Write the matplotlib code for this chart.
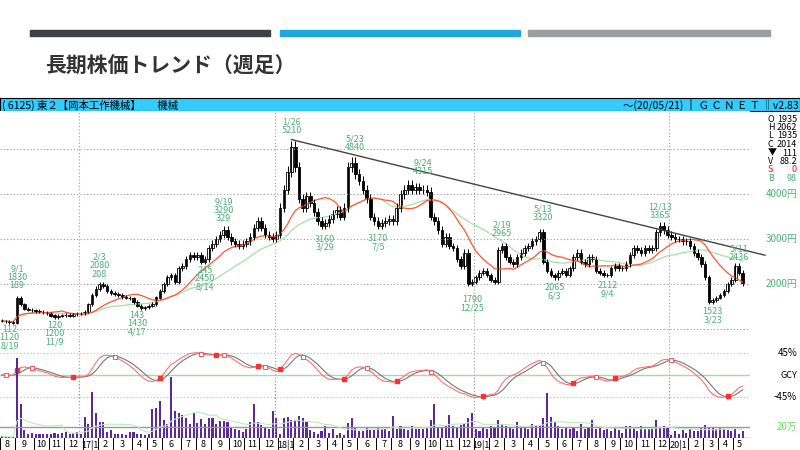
import numpy as np
import pandas as pd
import matplotlib
matplotlib.use("Agg")
import matplotlib.pyplot as plt

plt.rcParams['font.family'] = ['Noto Sans CJK JP', 'DejaVu Sans']

# ---------------- data ----------------
start_date = "2016-08-05"
closes = [
    1180,1170,1150,1140, 1700,1550,1450,1430,1420, 1400,1380,1370,1350, 1300,1260,1290,1310, 1320,1300,1330,1340,1350,
    1380,1550,1750,1900, 2000,1950,1850,1800, 1780,1750,1720,1700,1680, 1600,1520,1470,1480, 1520,1560,1700,1850,
    2000,2150,2200,2050,2350, 2400,2550,2650,2600, 2650,2500,2550,2800, 2900,3000,3100,3200,3050, 2950,2900,2850,2900,
    2950,3050,3250,3400, 3250,3100,3050,3000,3100,
    3700,4100,4500,5050, 4600,3900,3700,3950, 3800,3600,3400,3300,3350, 3450,3550,3650,3500, 3700,4600,4700,4450,
    4300,4100,3900,3500,3400, 3300,3350,3400,3450, 3400,3700,4000,4100,4200, 4100,4150,4100,4100, 4050,3500,3400,3200,
    2900,3050,2850,2800,2550, 2400,2700,2000,2050,
    2150,2250,2300,2200, 2100,2050,2750,2850, 2600,2500,2450,2600,2700, 2800,2850,2950,3000, 3150,2500,2300,2200,2150,
    2250,2300,2200,2350, 2600,2700,2500,2450, 2600,2550,2300,2250,2200, 2200,2350,2400,2350, 2350,2450,2650,2800,
    2750,2700,2800,2750,2800, 3150,3300,3200,3100,
    3050,3000,3000,2950,2950, 2850,2700,2600,2450, 2150,1600,1650,1700, 1750,1850,2000,2100, 2400,2250,2014,
]
volumes = [  # 万株
    2,1,1,1, 90,38,9,5,6, 5,5,4,5, 5,6,5,6, 7,5,6,7,5,
    24,16,52,28, 18,18,7,9, 5,5,5,3,7, 7,5,5,3, 5,32,34,42, 20,16,68,30,28, 26,23,16,28, 17,21,16,22,
    22,16,19,19,18, 11,10,9,7, 10,18,38,18, 15,11,10,30,22,
    5,22,24,20, 20,25,22,18, 9,7,5,8,13, 6,10,3,6, 3,17,22,11, 8,8,12,9,9, 11,10,10,8, 25,10,13,10,9,
    13,10,10,10, 12,20,38,12, 12,14,26,14,12, 15,16,22,28,
    10,8,11,10, 14,12,20,16, 14,12,10,18,14, 12,10,16,14, 15,22,50,24,18, 14,10,12,10, 12,8,16,10,
    12,20,10,11,9, 10,8,11,9, 6,14,13,11, 8,14,10,10,12, 20,12,14,12,
    3,8,5,9,6, 10,8,8,12, 15,12,12,10, 12,10,9,8, 10,5,8,
]
first_open = 1190
ann_dates = ["2016-08-19","2016-09-02","2016-11-11","2017-02-03","2017-04-14","2017-08-18","2017-09-22",
             "2018-01-26","2018-03-30","2018-05-25","2018-07-06","2018-09-28","2018-12-28","2019-02-22",
             "2019-05-10","2019-05-31","2019-09-06","2019-12-13","2020-03-20","2020-05-08"]
ann_prices = [1120,1830,1200,2080,1430,2450,3290,5210,3160,4840,3170,4315,1790,2965,3320,2065,2112,3365,1523,2436]
ann_texts = ["112\n1120\n8/19","9/1\n1830\n189","120\n1200\n11/9","2/3\n2080\n208","143\n1430\n4/17",
             "245\n2450\n8/14","9/19\n3290\n329","1/26\n5210","3160\n3/29","5/23\n4840","3170\n7/5","9/24\n4315",
             "1790\n12/25","2/19\n2965","5/13\n3320","2065\n6/3","2112\n9/4","12/13\n3365","1523\n3/23","5/11\n2436"]
ann_above = [False,True,False,True,False,False,True,True,False,True,False,True,False,True,True,False,False,True,False,True]
trend_end_price = 2640
info_labels = ["O","H","L","C","▼","V","S","B"]
info_values = ["1935","2062","1935","2014","111","88.2","0","98"]
price_ticks = [2000,3000,4000]

# ---------------- derived ----------------
n = len(closes)
dates = pd.date_range(start_date, periods=n, freq="7D")
c = np.array(closes, float)
o = np.concatenate([[first_open], c[:-1]])
hi = np.maximum(o, c) * 1.025
lo = np.minimum(o, c) * 0.975
idx = np.arange(n)
s = pd.Series(c)
ma13 = s.rolling(13, min_periods=1).mean()
ma26 = s.rolling(26, min_periods=1).mean()
osc = (s.ewm(span=4).mean() / s.rolling(20, min_periods=1).mean() - 1) * 200
osc = osc.ewm(span=3).mean()
osc = 60 * np.tanh(osc / 60)
osc_slow = osc.rolling(4, min_periods=1).mean()
vol = np.array(volumes, float)
volma = pd.Series(vol).rolling(13, min_periods=1).mean()

def di(d):
    return int(np.argmin(np.abs(dates - pd.Timestamp(d))))

W, H = 800, 450
fig = plt.figure(figsize=(8, 4.5), dpi=100)
fig.patch.set_facecolor("white")

def fax(x0, y0, x1, y1, **kw):
    return fig.add_axes([x0 / W, 1 - y1 / H, (x1 - x0) / W, (y1 - y0) / H], **kw)

for x0, x1, col in [(30, 270, "#3c4046"), (280, 520, "#1fa8e0"), (528, 770, "#9a9ea3")]:
    fig.patches.append(plt.Rectangle((x0 / W, 1 - 36 / H), (x1 - x0) / W, 6 / H, transform=fig.transFigure, color=col))
fig.text(45 / W, 1 - 66 / H, "長期株価トレンド（週足）", fontsize=15, fontweight="bold", color="#333333", va="center")

hax = fax(0, 98, 800, 111)
hax.set_facecolor("#33ccff")
hax.set_xticks([]); hax.set_yticks([])
for sp in hax.spines.values():
    sp.set_color("black"); sp.set_linewidth(0.8)
hax.text(0.002, 0.45, "( 6125) 東２【岡本工作機械】       機械", fontsize=7.5, va="center", transform=hax.transAxes)
hax.text(0.998, 0.45, "～(20/05/21) ‖ Ｇ Ｃ Ｎ Ｅ Ｔ ‖v2.83", fontsize=7.5, va="center", ha="right", transform=hax.transAxes)

xmin, xmax = -0.5, (750 - 2) / 3.76
green_txt = "#4caf7a"
year_idx = [di(f"{y}-01-01") for y in (2017, 2018, 2019, 2020)]

ax = fax(0, 111, 750, 340)
ax.set_xlim(xmin, xmax)
ax.set_ylim(2000 - (340 - 284) / 45 * 1000, 2000 + (284 - 111) / 45 * 1000)
for sp in ax.spines.values():
    sp.set_visible(False)
ax.set_xticks([]); ax.set_yticks([])
for p in [1000, 2000, 3000, 4000, 5000]:
    ax.axhline(p, color="#9a9a9a", ls=(0, (1, 2)), lw=0.8)
for yi in year_idx:
    ax.axvline(yi - 0.5, color="#9a9a9a", ls=(0, (1, 2)), lw=0.8)
ax.plot(idx, ma26, color="#a8e0a8", lw=0.9)
ax.plot(idx, ma13, color="#ff5533", lw=0.9)
ax.vlines(idx, lo, hi, color="black", lw=0.7)
up = c >= o
ax.bar(idx[up], (c - o)[up], bottom=o[up], width=0.7, color="white", edgecolor="black", lw=0.6)
ax.bar(idx[~up], (o - c)[~up], bottom=c[~up], width=0.7, color="black", edgecolor="black", lw=0.6)
i1 = di("2018-01-26")
xe = (765 - 2) / 3.76
ax.plot([i1, xe], [5210, trend_end_price], color="#444444", lw=1, clip_on=False)
for d, p, t, a in zip(ann_dates, ann_prices, ann_texts, ann_above):
    i = di(d)
    ax.text(i, p * (1.02 if a else 0.98), t, fontsize=6.5, color=green_txt, ha="center",
            va="bottom" if a else "top", linespacing=0.9)

for k, (lab, val) in enumerate(zip(info_labels, info_values)):
    y = 119 + k * 8.5
    col = "red" if lab == "S" else (green_txt if lab == "B" else "black")
    fig.text(768 / W, 1 - y / H, lab, fontsize=6.5, color=col, va="center")
    fig.text(797 / W, 1 - y / H, val, fontsize=6.5, color=col, va="center", ha="right")
for p in price_ticks:
    fig.text(797 / W, 1 - (284 - (p - 2000) * 0.045) / H, f"{p}円", fontsize=7, color=green_txt, va="center", ha="right")

oax = fax(0, 340, 750, 405)
oax.set_xlim(xmin, xmax)
oax.set_ylim(-45 - 8 / 22 * 45, 45 + 13 / 22 * 45)
oax.patch.set_alpha(0)
for sp in oax.spines.values():
    sp.set_visible(False)
oax.set_xticks([]); oax.set_yticks([])
for v in (45, -45):
    oax.axhline(v, color="#8fcf9f", ls=(0, (1, 2)), lw=0.8)
oax.axhline(0, color="#a8d8b0", lw=1)
for yi in year_idx:
    oax.axvline(yi - 0.5, color="#9a9a9a", ls=(0, (1, 2)), lw=0.8)
oax.plot(idx, osc_slow, color="#777777", lw=0.8)
oax.plot(idx, osc, color="#ff7070", lw=0.8)
diff = np.sign(osc - osc_slow).values
for i in range(1, n):
    if diff[i] > 0 and diff[i - 1] <= 0:
        oax.plot(i, osc[i], "s", ms=3, color="#ff3030")
    elif diff[i] < 0 and diff[i - 1] >= 0:
        oax.plot(i, osc[i], "s", ms=3, mfc="white", mec="#ff5050", mew=0.7)
fig.text(797 / W, 1 - 353 / H, "45%", fontsize=7, va="center", ha="right")
fig.text(797 / W, 1 - 375 / H, "GCY", fontsize=6.5, va="center", ha="right")
fig.text(797 / W, 1 - 397 / H, "-45%", fontsize=7, va="center", ha="right")

vax = fax(0, 340, 750, 438)
vax.set_xlim(xmin, xmax)
vax.set_ylim(0, 110)
vax.patch.set_alpha(0)
for sp in vax.spines.values():
    sp.set_visible(False)
vax.set_xticks([]); vax.set_yticks([])
vax.axhline(110 * 11 / 98, color="#999999", lw=1)
vax.bar(idx, vol, width=0.55, color="#5b2a9a")
vax.plot(idx, volma, color="#b8ecb8", lw=0.8)
vax.axhline(0.4, color="#ff3030", lw=1)
for yi in year_idx:
    vax.axvline(yi - 0.5, ymax=0.6, color="#9a9a9a", ls=(0, (1, 2)), lw=0.8)
fig.text(797 / W, 1 - 427 / H, "20万", fontsize=7, color="#66dd66", va="center", ha="right")

max_ = fax(0, 438, 750, 450)
max_.set_xlim(xmin, xmax); max_.set_ylim(0, 1)
max_.set_xticks([]); max_.set_yticks([])
for sp in max_.spines.values():
    sp.set_visible(False)
months = dates.to_period("M")
starts = [0] + [i for i in range(1, n) if months[i] != months[i - 1]] + [n]
for k in range(len(starts) - 1):
    a, b = starts[k], starts[k + 1]
    max_.axvline(a - 0.5, color="black", lw=0.7)
    m = dates[a].month
    lab = str(m) if m != 1 else f"{dates[a].year % 100}|1"
    max_.text((a + b - 1) / 2, 0.45, lab, fontsize=6.5, ha="center", va="center")
max_.axvline(n - 0.5 + 4, color="black", lw=0.7)

fig.savefig("out.png", dpi=100)
